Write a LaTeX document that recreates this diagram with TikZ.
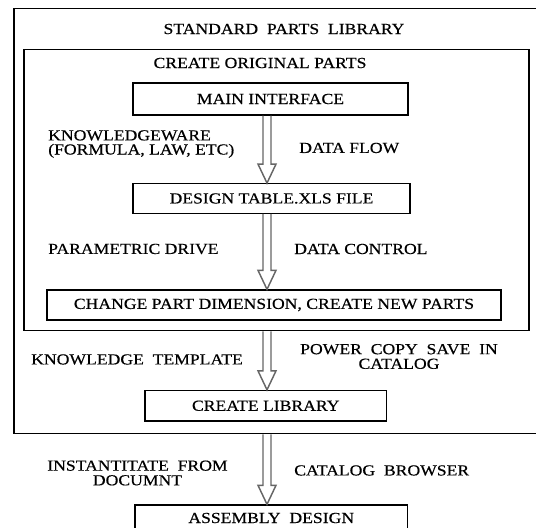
\documentclass[tikz,border=0pt]{standalone}
\usepackage{fontspec}
\setmainfont[FakeStretch=1.15, FakeBold=0.4]{Liberation Serif}
\newfontfamily\widefont[FakeStretch=1.15, FakeBold=0.4, WordSpace=2]{Liberation Serif}
\usetikzlibrary{calc}
% hollow double-shaft arrow along the spine
\newcommand{\flowarrow}[2]{\draw[flow] ($(#1 -| spine)+(-4,0)$) -- ($(#2 -| spine)+(-4,-19)$) -- ($(#2 -| spine)+(-9,-19)$) -- (#2 -| spine) -- ($(#2 -| spine)+(9,-19)$) -- ($(#2 -| spine)+(4,-19)$) -- ($(#1 -| spine)+(4,0)$);}

\begin{document}
\begin{tikzpicture}[x=0.75pt, y=-0.75pt,
	font=\fontsize{11.5}{11}\selectfont,
	box/.style 2 args={draw, line width=1pt, inner sep=0pt, minimum width=#1*0.75pt, minimum height=#2*0.75pt},
	flow/.style={draw=black!60, line width=1.1pt, line join=miter},
	lbl/.style={inner sep=0pt, anchor=west},
	wide/.style={font=\widefont\fontsize{11.5}{11}\selectfont}]
			%%%%% START %%%%%
			\useasboundingbox (0, 0) rectangle (536, 528);
			\clip (0, 0) rectangle (536, 528);
			\coordinate (spine) at (267, 0);
			
			\node[box={531}{425.5}] (std) at (279.5, 221) {};
			\node[inner sep=0pt, wide] (stdtitle) at (284, 29) {STANDARD PARTS LIBRARY};
			
			\node[box={505}{281.5}] (orig) at (276.5, 190) {};
			\node[inner sep=0pt] (origtitle) at (260, 63) {CREATE ORIGINAL PARTS};
			
			\node[box={275}{32}] (mi) at (270.5, 99) {MAIN INTERFACE};
			\node[box={277}{29.5}] (dt) at (271.5, 198.5) {DESIGN TABLE.XLS FILE};
			\node[box={454}{30}] (cp) at (274, 305) {CHANGE PART DIMENSION, CREATE NEW PARTS};
			\node[box={241.5}{30.5}] (cl) at (265.75, 405.75) {CREATE LIBRARY};
			\node[box={272.5}{26}, wide] (ad) at (271.25, 518) {ASSEMBLY DESIGN};
			
			\node[lbl, align=left, font=\fontsize{11.5}{10.6}\selectfont] (kw) at (48, 144) {KNOWLEDGEWARE\\(FORMULA, LAW, ETC)};
			\node[lbl] (df) at (299, 148) {DATA FLOW};
			\node[lbl] (pd) at (48, 249) {PARAMETRIC DRIVE};
			\node[lbl] (dc) at (294, 249) {DATA CONTROL};
			\node[lbl, wide] (kt) at (31, 359.5) {KNOWLEDGE TEMPLATE};
			\node[inner sep=0pt, align=center, wide] (pc) at (399, 356.5) {POWER COPY SAVE IN\\CATALOG};
			\node[inner sep=0pt, align=center, wide] (inst) at (137.5, 473) {INSTANTITATE FROM\\DOCUMNT};
			\node[lbl, wide] (cb) at (294, 470.5) {CATALOG BROWSER};
			
			\flowarrow{mi.south}{dt.north}
			\flowarrow{dt.south}{cp.north}
			\flowarrow{orig.south}{cl.north}
			\flowarrow{std.south}{ad.north}
			%%%%% END %%%%%
\end{tikzpicture}
\end{document}
